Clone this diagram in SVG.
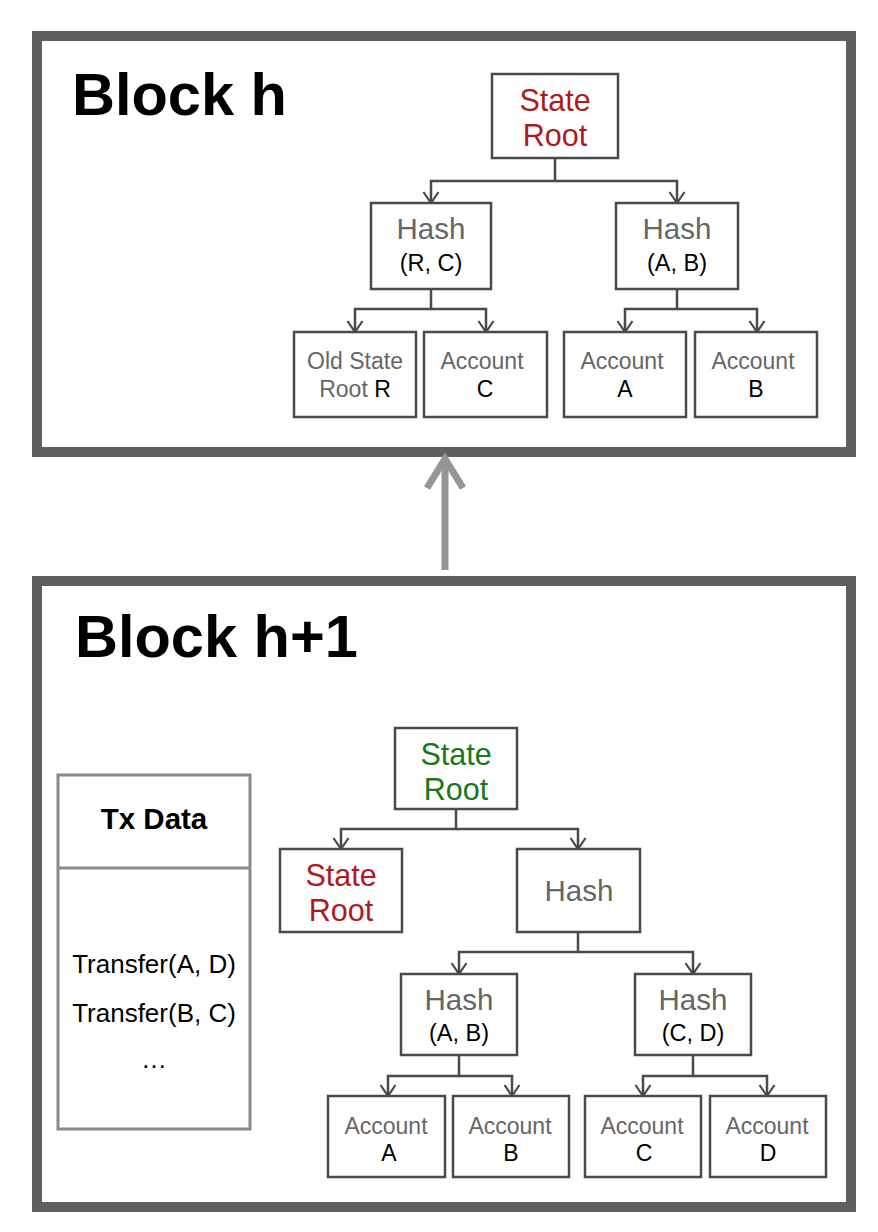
<svg xmlns="http://www.w3.org/2000/svg" width="878" height="1232" viewBox="0 0 878 1232">
<style>
text{font-family:"Liberation Sans",Arial,Helvetica,sans-serif;text-anchor:middle}
.frame{fill:none;stroke:#5f5f5f;stroke-width:10}
.box{fill:#fff;stroke:#4a4a4a;stroke-width:2.5}
.conn{fill:none;stroke:#4a4a4a;stroke-width:2.5;marker-end:url(#v)}
.title{font-weight:bold;font-size:59.5px;text-anchor:start;fill:#000}
.red{fill:#b0191c;font-size:30.5px}
.green{fill:#17771a;font-size:30.5px}
.hash{fill:#666;font-size:29.5px}
.sub{fill:#000;font-size:23.5px}
.acc{fill:#666;font-size:23px}
.let{fill:#000;font-size:23px}
.tx{fill:#000;font-size:26px}
</style>
<defs>
<marker id="v" viewBox="0 0 14 18" refX="12" refY="9" markerWidth="14" markerHeight="18" markerUnits="userSpaceOnUse" orient="auto">
<path d="M1,1.5 L12,9 L1,16.5" fill="none" stroke="#4a4a4a" stroke-width="2.2"/>
</marker>
</defs>
<rect width="878" height="1232" fill="#fff"/>

<g id="blockH">
<rect class="frame" x="37" y="36" width="814" height="416"/>
<text class="title" x="72" y="115">Block h</text>
</g>
<g id="blockH1">
<rect class="frame" x="37" y="581" width="814" height="626"/>
<text class="title" x="75" y="657">Block h+1</text>
</g>

<g id="link">
<line x1="445" y1="570" x2="445" y2="462" stroke="#959595" stroke-width="7"/>
<path d="M427,488 L445,459 L463,488" fill="none" stroke="#959595" stroke-width="7"/>
</g>

<g id="connectors">
<path class="conn" d="M555,158 V181 H431 V203"/>
<path class="conn" d="M555,181 H677 V203"/>
<path class="conn" d="M431,289 V309 H355 V332"/>
<path class="conn" d="M431,309 H486 V332"/>
<path class="conn" d="M677,289 V309 H625 V332"/>
<path class="conn" d="M677,309 H757 V332"/>
<path class="conn" d="M456,809 V829 H341 V849"/>
<path class="conn" d="M456,829 H578 V849"/>
<path class="conn" d="M578,932 V952 H459 V974"/>
<path class="conn" d="M578,952 H693 V974"/>
<path class="conn" d="M459,1055 V1076 H388 V1096"/>
<path class="conn" d="M459,1076 H512 V1096"/>
<path class="conn" d="M693,1055 V1076 H643 V1096"/>
<path class="conn" d="M693,1076 H767 V1096"/>
</g>

<g id="h_root">
<rect class="box" x="492" y="74" width="126" height="84"/>
<text class="red" x="555" y="111">State</text>
<text class="red" x="555" y="146">Root</text>
</g>
<g id="h_hashRC">
<rect class="box" x="371" y="203" width="120" height="86"/>
<text class="hash" x="431" y="239">Hash</text>
<text class="sub" x="431" y="271">(R, C)</text>
</g>
<g id="h_hashAB">
<rect class="box" x="616" y="203" width="122" height="86"/>
<text class="hash" x="677" y="239">Hash</text>
<text class="sub" x="677" y="271">(A, B)</text>
</g>
<g id="h_oldroot">
<rect class="box" x="294" y="332" width="122" height="85"/>
<text class="acc" x="355" y="369">Old State</text>
<text class="acc" x="355" y="397">Root <tspan fill="#000">R</tspan></text>
</g>
<g id="h_accC">
<rect class="box" x="424" y="332" width="123" height="85"/>
<text class="acc" x="482" y="369">Account</text>
<text class="let" x="485" y="397">C</text>
</g>
<g id="h_accA">
<rect class="box" x="564" y="332" width="122" height="85"/>
<text class="acc" x="622" y="369">Account</text>
<text class="let" x="625" y="397">A</text>
</g>
<g id="h_accB">
<rect class="box" x="695" y="332" width="122" height="85"/>
<text class="acc" x="753" y="369">Account</text>
<text class="let" x="756" y="397">B</text>
</g>

<g id="txdata">
<rect x="58" y="775" width="192" height="354" fill="#fff" stroke="#8a8a8a" stroke-width="3"/>
<line x1="58" y1="868" x2="250" y2="868" stroke="#8a8a8a" stroke-width="3"/>
<text x="154" y="829" style="font-weight:bold;font-size:29.5px">Tx Data</text>
<text class="tx" x="154" y="973">Transfer(A, D)</text>
<text class="tx" x="154" y="1022">Transfer(B, C)</text>
<text class="tx" x="154" y="1068">…</text>
</g>

<g id="n_root">
<rect class="box" x="395" y="728" width="122" height="81"/>
<text class="green" x="456" y="765">State</text>
<text class="green" x="456" y="800">Root</text>
</g>
<g id="n_oldroot">
<rect class="box" x="280" y="849" width="122" height="83"/>
<text class="red" x="341" y="886">State</text>
<text class="red" x="341" y="921">Root</text>
</g>
<g id="n_hash">
<rect class="box" x="517" y="849" width="123" height="83"/>
<text class="hash" x="579" y="901">Hash</text>
</g>
<g id="n_hashAB">
<rect class="box" x="401" y="974" width="116" height="81"/>
<text class="hash" x="459" y="1010">Hash</text>
<text class="sub" x="459" y="1041">(A, B)</text>
</g>
<g id="n_hashCD">
<rect class="box" x="635" y="974" width="116" height="81"/>
<text class="hash" x="693" y="1010">Hash</text>
<text class="sub" x="693" y="1041">(C, D)</text>
</g>
<g id="n_accA">
<rect class="box" x="328" y="1096" width="117" height="81"/>
<text class="acc" x="386" y="1134">Account</text>
<text class="let" x="389" y="1161">A</text>
</g>
<g id="n_accB">
<rect class="box" x="453" y="1096" width="116" height="81"/>
<text class="acc" x="510" y="1134">Account</text>
<text class="let" x="511" y="1161">B</text>
</g>
<g id="n_accC">
<rect class="box" x="585" y="1096" width="116" height="81"/>
<text class="acc" x="642" y="1134">Account</text>
<text class="let" x="644" y="1161">C</text>
</g>
<g id="n_accD">
<rect class="box" x="710" y="1096" width="116" height="81"/>
<text class="acc" x="767" y="1134">Account</text>
<text class="let" x="768" y="1161">D</text>
</g>
</svg>
